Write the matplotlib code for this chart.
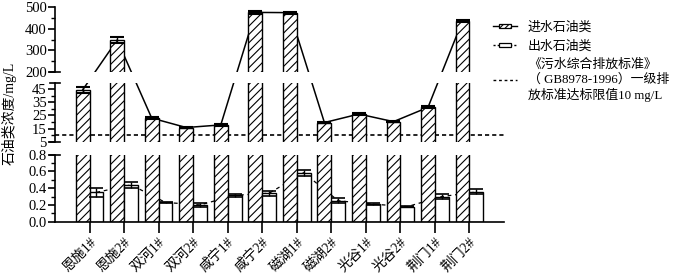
import matplotlib
matplotlib.use('Agg')
import matplotlib.pyplot as plt
import numpy as np
from matplotlib import transforms as mtransforms
from matplotlib.lines import Line2D
from matplotlib.patches import Rectangle
from matplotlib.legend_handler import HandlerBase
from matplotlib.ticker import FixedLocator

plt.rcParams['font.family'] = ['Liberation Serif', 'Noto Sans CJK SC']
plt.rcParams['hatch.linewidth'] = 0.8
plt.rcParams['axes.unicode_minus'] = False

# ---------------- data ----------------
sites = ['恩施1#', '恩施2#', '双河1#', '双河2#', '咸宁1#', '咸宁2#',
         '磁湖1#', '磁湖2#', '光谷1#', '光谷2#', '荆门1#', '荆门2#']
inlet = [44.5, 348, 23.0, 15.8, 17.8, 475, 474, 19.6, 26.1, 20.3, 31.2, 437]
inlet_err = [2.5, 12, 0.8, 0.5, 0.8, 5, 4, 0.6, 0.6, 0.6, 0.8, 4]
outlet = [0.35, 0.44, 0.23, 0.20, 0.315, 0.34, 0.585, 0.25, 0.21, 0.18, 0.30, 0.355]
outlet_err = [0.05, 0.04, 0.01, 0.02, 0.02, 0.03, 0.035, 0.03, 0.01, 0.005, 0.03, 0.03]
limit_value = 10
legend_labels = ['进水石油类', '出水石油类',
                 '《污水综合排放标准》\n（ GB8978-1996）一级排\n放标准达标限值10 mg/L']
ylabel = '石油类浓度/mg/L'

# ---------------- layout ----------------
W, H = 678, 274
fig = plt.figure(figsize=(W / 100, H / 100), dpi=100)


def rect(l, t, r, b):
    return [l / W, 1 - b / H, (r - l) / W, (b - t) / H]


ax_top = fig.add_axes(rect(55, 7, 504, 72))
ax_mid = fig.add_axes(rect(55, 82.7, 504, 141.7))
ax_bot = fig.add_axes(rect(55, 154.7, 504, 221.7))
axes = [ax_top, ax_mid, ax_bot]

x = np.arange(len(sites))
bw = 0.4
ranges = {ax_top: (200, 500), ax_mid: (5, 50), ax_bot: (0, 0.8)}

for ax in axes:
    ax.bar(x - bw / 2, inlet, width=bw, facecolor='white', edgecolor='black',
           hatch='////', linewidth=1.0, zorder=2)
    ax.errorbar(x - bw / 2, inlet, yerr=inlet_err, fmt='none', ecolor='black',
                elinewidth=1.0, capsize=5, capthick=1.5, zorder=3)
    ax.bar(x + bw / 2, outlet, width=bw, facecolor='white', edgecolor='black',
           linewidth=1.0, zorder=2)
    ax.errorbar(x + bw / 2, outlet, yerr=outlet_err, fmt='none', ecolor='black',
                elinewidth=1.0, capsize=5, capthick=1.2, zorder=3)
    ax.set_xlim(-1, 12)
    ax.set_ylim(*ranges[ax])
    for s in ['top', 'right']:
        ax.spines[s].set_visible(False)
    ax.spines['left'].set_linewidth(1.2)
    ax.tick_params(axis='y', which='major', length=5, width=1.2, labelsize=10.5, pad=1)
    ax.tick_params(axis='y', which='minor', length=3, width=1.0)

for ax in (ax_top, ax_mid):
    ax.spines['bottom'].set_visible(False)
    ax.tick_params(axis='x', which='both', bottom=False, labelbottom=False)

ax_top.yaxis.set_major_locator(FixedLocator([200, 300, 400, 500]))
ax_top.yaxis.set_minor_locator(FixedLocator([250, 350, 450]))
ax_mid.yaxis.set_major_locator(FixedLocator([5, 15, 25, 35, 45]))
ax_mid.yaxis.set_minor_locator(FixedLocator([10, 20, 30, 40]))
ax_bot.yaxis.set_major_locator(FixedLocator([0.0, 0.2, 0.4, 0.6, 0.8]))
ax_bot.yaxis.set_minor_locator(FixedLocator([0.1, 0.3, 0.5, 0.7]))
ax_bot.yaxis.set_major_formatter(plt.FuncFormatter(lambda v, p: f'{v:.1f}'))

ax_bot.spines['bottom'].set_linewidth(1.2)
ax_bot.set_xticks(x)
ax_bot.set_xticklabels(sites, rotation=45, ha='right', rotation_mode='anchor', fontsize=10)
ax_bot.tick_params(axis='x', length=8, width=1.2, pad=2)

# limit line
ax_mid.axhline(limit_value, color='black', lw=1.2, ls=(0, (2.5, 1.8)), zorder=1.5)

# outlet trend line (dashed) in bottom panel
ax_bot.plot(x + bw / 2, outlet, color='black', lw=0.9, ls=(0, (3, 3)), zorder=1.5)


# inlet trend line, continuous across broken axis (display space)
def to_disp(xv, v):
    if v >= ranges[ax_top][0]:
        a = ax_top
    elif v >= ranges[ax_mid][0]:
        a = ax_mid
    else:
        a = ax_bot
    return a.transData.transform((xv, v))


pts = np.array([to_disp(xi - bw / 2, v) for xi, v in zip(x, inlet)])
for ax in (ax_top, ax_mid):
    ax.plot(pts[:, 0], pts[:, 1], color='black', lw=1.1,
            transform=mtransforms.IdentityTransform(), zorder=1.5)

# break marks
for ax, ends in ((ax_top, [0]), (ax_mid, [0, 1]), (ax_bot, [1])):
    for e in ends:
        ax.plot([-0.012, 0.012], [e, e], transform=ax.transAxes, color='black',
                lw=1.2, clip_on=False)

fig.text(9 / W, 1 - 113 / H, ylabel, rotation=90, ha='center', va='center', fontsize=10)


# ---------------- legend ----------------
class HandlerLineRect(HandlerBase):
    def __init__(self, hatch, ls):
        super().__init__()
        self.hatch = hatch
        self.ls = ls

    def create_artists(self, legend, orig_handle, xdescent, ydescent, width,
                       height, fontsize, trans):
        yc = height / 2 - ydescent
        line = Line2D([-xdescent, width - xdescent], [yc, yc], color='black',
                      lw=1.0, ls=self.ls, transform=trans)
        rw, rh = width * 0.5, height * 0.45
        r = Rectangle((-xdescent + (width - rw) / 2, yc - rh / 2), rw, rh,
                      facecolor='white', edgecolor='black', hatch=self.hatch,
                      lw=0.9, transform=trans)
        return [line, r]


h1 = Rectangle((0, 0), 1, 1)
h2 = Rectangle((0, 0), 1, 1)
h3 = Line2D([], [], color='black', lw=1.0, ls=(0, (2, 2)))
fig.legend([h1, h2, h3], legend_labels,
           handler_map={h1: HandlerLineRect('//////', '-'),
                        h2: HandlerLineRect('', (0, (1.5, 1.5)))},
           loc='upper left', bbox_to_anchor=(487 / W, 1 - 15 / H),
           frameon=False, fontsize=9.3, borderpad=0, handlelength=1.85,
           handletextpad=0.8, labelspacing=0.5)

fig.savefig('out.png', dpi=100)
